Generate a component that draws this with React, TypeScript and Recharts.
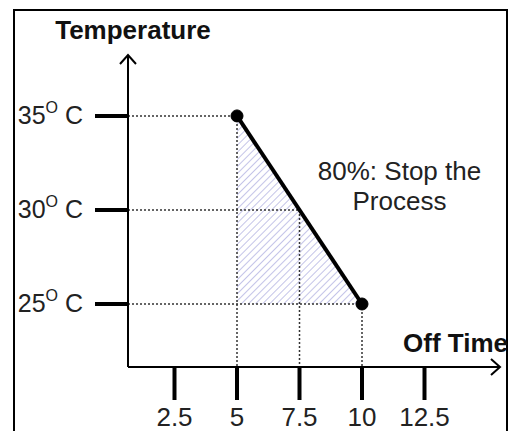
import React from "react";
import {
  ComposedChart,
  XAxis,
  YAxis,
  Line,
  Area,
  ReferenceLine,
  ReferenceDot,
} from "recharts";

// Data
const offTime = [5, 10];
const temperature = [35, 25];
const guideX = [5, 7.5, 10];
const guideY = [35, 30, 25];
const xTicks = [2.5, 5, 7.5, 10, 12.5];
const yTicks = [25, 30, 35];
const xTitle = "Off Time";
const yTitle = "Temperature";
const noteLines = ["80%: Stop the", "Process"];
const notePos = { x: 11.5, y: 31.2 };

const xDomain: [number, number] = [0.64, 15.52];
const yDomain: [number, number] = [21.65, 38.24];

const data = offTime.map((t, i) => ({ t, temp: temperature[i] }));

const FONT = "'Liberation Sans', Arial, sans-serif";

const YTick = (props: any) => {
  const { x, y, payload } = props;
  return (
    <text x={x} y={y} dy={8} textAnchor="end" fontFamily={FONT} fontSize={25} fill="#222">
      <tspan>{payload.value}</tspan>
      <tspan fontSize={16} dy={-11}>O</tspan>
      <tspan dy={11}>{" C"}</tspan>
    </text>
  );
};

const UpArrow = (props: any) => {
  const { cx, cy } = props;
  return (
    <g>
      <path d={`M${cx - 8},${cy + 9} L${cx},${cy} L${cx + 8},${cy + 9}`} fill="none" stroke="#000" strokeWidth={2} />
      <text x={cx + 5} y={cy - 16} textAnchor="middle" fontFamily={FONT} fontWeight="bold" fontSize={26} fill="#111">
        {yTitle}
      </text>
    </g>
  );
};

const RightArrow = (props: any) => {
  const { cx, cy } = props;
  return (
    <g>
      <path d={`M${cx - 9},${cy - 8} L${cx},${cy} L${cx - 9},${cy + 8}`} fill="none" stroke="#000" strokeWidth={2} />
      <text x={cx + 8} y={cy - 15} textAnchor="end" fontFamily={FONT} fontWeight="bold" fontSize={26} fill="#111">
        {xTitle}
      </text>
    </g>
  );
};

const Note = (props: any) => {
  const { cx, cy } = props;
  return (
    <text textAnchor="middle" fontFamily={FONT} fontSize={26} fill="#222">
      {noteLines.map((l, i) => (
        <tspan key={i} x={cx} y={cy - 7 + i * 30}>
          {l}
        </tspan>
      ))}
    </text>
  );
};

export default function App() {
  return (
    <div style={{ position: "absolute", left: 0, top: 0, width: 512, height: 431, overflow: "hidden", background: "#fff" }}>
      <div
        style={{
          position: "absolute",
          left: 13,
          top: 9,
          width: 495,
          height: 460,
          border: "2px solid #000",
          boxSizing: "border-box",
        }}
      />
      <div style={{ position: "absolute", left: 0, top: 0 }}>
        <ComposedChart
          width={512}
          height={431}
          data={data}
          margin={{ top: 55, left: 98, right: 12, bottom: 34 }}
        >
          <defs>
            <pattern id="hatch" width="5" height="5" patternUnits="userSpaceOnUse" patternTransform="rotate(45)">
              <line x1="0" y1="0" x2="0" y2="5" stroke="#9c9cd8" strokeWidth={1.2} />
            </pattern>
          </defs>
          <XAxis
            dataKey="t"
            type="number"
            domain={xDomain}
            ticks={xTicks}
            allowDataOverflow
            height={30}
            axisLine={{ stroke: "#000", strokeWidth: 2 }}
            tickLine={{ stroke: "#000", strokeWidth: 4 }}
            tickSize={33}
            tickMargin={8}
            tick={{ fontFamily: FONT, fontSize: 26, fill: "#222" }}
          />
          <YAxis
            type="number"
            domain={yDomain}
            ticks={yTicks}
            allowDataOverflow
            width={30}
            axisLine={{ stroke: "#000", strokeWidth: 2 }}
            tickLine={{ stroke: "#000", strokeWidth: 4 }}
            tickSize={33}
            tickMargin={12}
            tick={<YTick />}
          />
          <Area
            type="linear"
            dataKey="temp"
            baseValue={guideY[2]}
            stroke="none"
            fill="url(#hatch)"
            fillOpacity={1}
            isAnimationActive={false}
          />
          {guideX.map((gx, i) => (
            <ReferenceLine
              key={"h" + i}
              segment={[
                { x: xDomain[0], y: guideY[i] },
                { x: gx, y: guideY[i] },
              ]}
              stroke="#333"
              strokeWidth={1.5}
              strokeDasharray="2 2"
            />
          ))}
          {guideX.map((gx, i) => (
            <ReferenceLine
              key={"v" + i}
              segment={[
                { x: gx, y: guideY[i] },
                { x: gx, y: yDomain[0] },
              ]}
              stroke="#333"
              strokeWidth={1.5}
              strokeDasharray="2 2"
            />
          ))}
          <Line
            type="linear"
            dataKey="temp"
            stroke="#000"
            strokeWidth={4}
            dot={{ r: 6, fill: "#000", stroke: "#000", strokeWidth: 1 }}
            isAnimationActive={false}
          />
          <ReferenceDot x={xDomain[0]} y={yDomain[1]} r={0} shape={<UpArrow />} ifOverflow="visible" />
          <ReferenceDot x={xDomain[1]} y={yDomain[0]} r={0} shape={<RightArrow />} ifOverflow="visible" />
          <ReferenceDot x={notePos.x} y={notePos.y} r={0} shape={<Note />} ifOverflow="visible" />
        </ComposedChart>
      </div>
    </div>
  );
}
